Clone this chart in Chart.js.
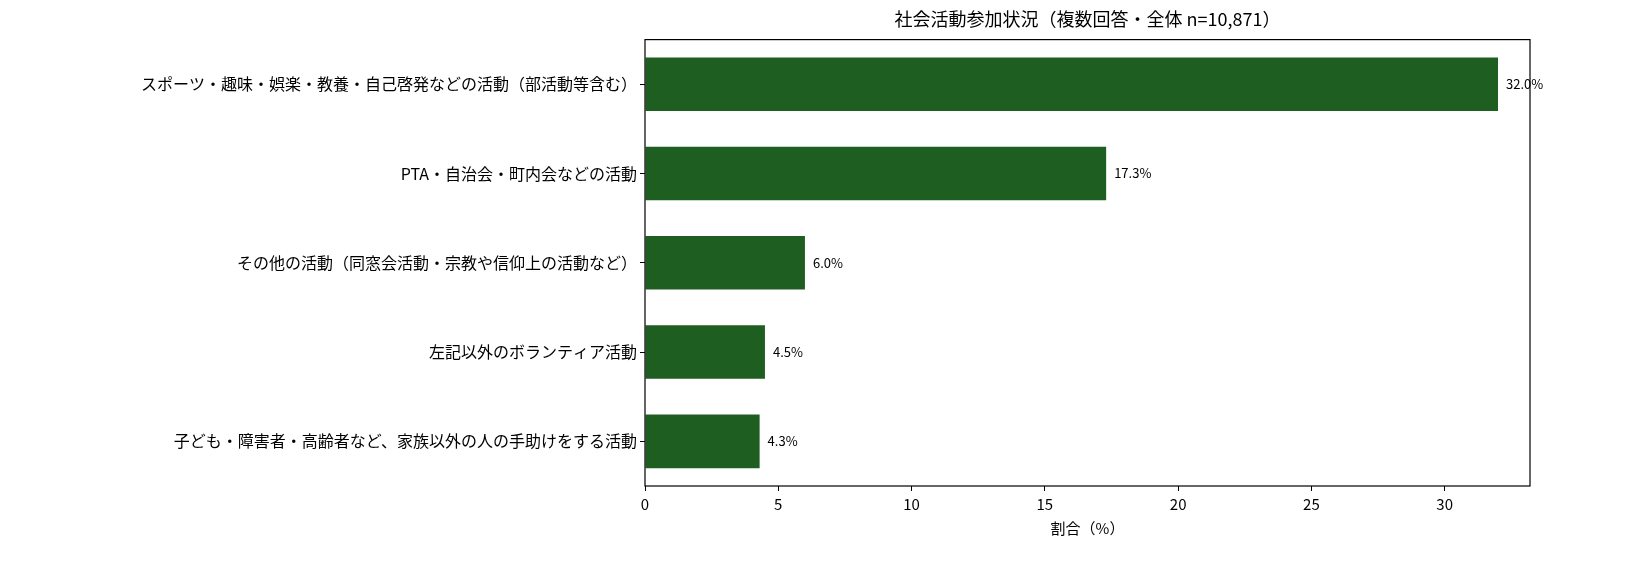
<!DOCTYPE html>
<html><head><meta charset="utf-8">
<script src="https://cdn.jsdelivr.net/npm/chart.js@4/dist/chart.umd.min.js"></script>
<style>html,body{margin:0;padding:0;background:#fff;overflow:hidden}canvas{display:block}</style></head>
<body><canvas id="c" width="1647" height="583" style="width:1647px;height:583px"></canvas>
<script>
const categories = ["スポーツ・趣味・娯楽・教養・自己啓発などの活動（部活動等含む）","PTA・自治会・町内会などの活動","その他の活動（同窓会活動・宗教や信仰上の活動など）","左記以外のボランティア活動","子ども・障害者・高齢者など、家族以外の人の手助けをする活動"];
const values = [32.0, 17.3, 6.0, 4.5, 4.3];
const xTicks = [0,5,10,15,20,25,30];
const FONT = "'Noto Sans CJK JP', sans-serif";
const boxPlugin = {id:'box', afterDraw(ch){const a=ch.chartArea,c=ch.ctx;c.save();c.strokeStyle='#000';c.lineWidth=1.2;c.strokeRect(a.left,a.top,a.right-a.left,a.bottom-a.top);
 c.fillStyle='#000';c.font="13px "+FONT;c.textBaseline='middle';const m=ch.getDatasetMeta(0);
 m.data.forEach((b,i)=>{c.fillText(values[i].toFixed(1)+'%',b.x+8,b.y);});c.restore();}};
new Chart(document.getElementById('c'),{type:'bar',
 data:{labels:categories,datasets:[{data:values,backgroundColor:'#1e5e20',barPercentage:0.6,categoryPercentage:1}]},
 options:{indexAxis:'y',responsive:false,animation:false,devicePixelRatio:1,
  layout:{padding:{left:0,right:117,top:8,bottom:42}},
  plugins:{legend:{display:false},tooltip:{enabled:false},
   title:{display:true,fullSize:false,text:'社会活動参加状況（複数回答・全体 n=10,871）',color:'#000',font:{family:FONT,size:18,weight:'normal'},padding:{top:0,bottom:10}}},
  scales:{
   y:{afterFit(s){s.width=645;},grid:{display:true,offset:false,drawOnChartArea:false,tickLength:5,color:'#000'},border:{display:false},
      ticks:{color:'#000',font:{family:FONT,size:16}}},
   x:{min:0,max:33.2,afterBuildTicks(s){s.ticks=xTicks.map(v=>({value:v}));},
      grid:{display:true,drawOnChartArea:false,tickLength:5,color:'#000'},border:{display:false},
      ticks:{color:'#000',font:{family:FONT,size:15},padding:4},
      title:{display:true,text:'割合（%）',color:'#000',font:{family:FONT,size:15},padding:{top:2}}}
  }},plugins:[boxPlugin]});
</script></body></html>
